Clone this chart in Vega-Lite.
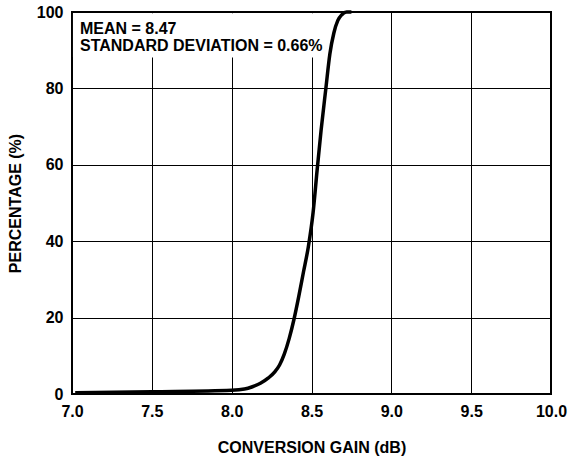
{
  "$schema": "https://vega.github.io/schema/vega-lite/v6.json",
  "width": 479,
  "height": 382,
  "autosize": "none",
  "padding": {"left": 72, "top": 12, "right": 18, "bottom": 62},
  "background": "white",
  "config": {
    "view": {"stroke": "#000", "strokeWidth": 2},
    "font": "Liberation Sans",
    "axis": {
      "labelFont": "Liberation Sans",
      "labelFontSize": 16,
      "labelFontWeight": "bold",
      "labelColor": "#000",
      "titleFont": "Liberation Sans",
      "titleFontSize": 16,
      "titleFontWeight": "bold",
      "titleColor": "#000",
      "grid": true,
      "gridColor": "#000",
      "gridWidth": 1,
      "gridOpacity": 1,
      "domain": false,
      "ticks": false,
      "tickSize": 0
    }
  },
  "datasets": {
    "curve": [
      {"gain": 7.02, "pct": 0.3},
      {"gain": 7.5, "pct": 0.6},
      {"gain": 8.0, "pct": 1.0},
      {"gain": 8.08, "pct": 1.3},
      {"gain": 8.13, "pct": 1.9},
      {"gain": 8.18, "pct": 2.8},
      {"gain": 8.23, "pct": 4.2},
      {"gain": 8.27, "pct": 5.8},
      {"gain": 8.30, "pct": 7.6},
      {"gain": 8.33, "pct": 10.5},
      {"gain": 8.36, "pct": 14.5},
      {"gain": 8.39, "pct": 19.5},
      {"gain": 8.42, "pct": 25.5},
      {"gain": 8.45, "pct": 32},
      {"gain": 8.48, "pct": 38.5},
      {"gain": 8.51, "pct": 47.5},
      {"gain": 8.535, "pct": 58.5},
      {"gain": 8.56, "pct": 69},
      {"gain": 8.59, "pct": 80},
      {"gain": 8.615, "pct": 89},
      {"gain": 8.64, "pct": 94.5},
      {"gain": 8.665, "pct": 97.8},
      {"gain": 8.69, "pct": 99.3},
      {"gain": 8.72, "pct": 100},
      {"gain": 8.75, "pct": 100}
    ],
    "box": [{"x1": 7.006, "x2": 8.585, "y1": 88.1, "y2": 99.7}],
    "notes": [
      {"gain": 7.05, "pct": 94.2, "label": "MEAN = 8.47"},
      {"gain": 7.05, "pct": 89.9, "label": "STANDARD DEVIATION = 0.66%"}
    ]
  },
  "layer": [
    {
      "data": {"name": "box"},
      "mark": {"type": "rect", "fill": "white", "stroke": null},
      "encoding": {
        "x": {"field": "x1", "type": "quantitative",
          "scale": {"domain": [7, 10], "nice": false, "zero": false},
          "axis": {"values": [7, 7.5, 8, 8.5, 9, 9.5, 10], "format": ".1f", "labelFlush": false,
                   "labelPadding": 9, "title": "CONVERSION GAIN (dB)", "titlePadding": 20}},
        "x2": {"field": "x2"},
        "y": {"field": "y1", "type": "quantitative",
          "scale": {"domain": [0, 100], "nice": false},
          "axis": {"values": [0, 20, 40, 60, 80, 100], "labelFlush": false,
                   "labelPadding": 9, "title": "PERCENTAGE (%)", "titlePadding": 13}},
        "y2": {"field": "y2"}
      }
    },
    {
      "data": {"name": "curve"},
      "mark": {"type": "line", "color": "#000", "strokeWidth": 3.5, "interpolate": "monotone"},
      "encoding": {
        "x": {"field": "gain", "type": "quantitative"},
        "y": {"field": "pct", "type": "quantitative"}
      }
    },
    {
      "data": {"name": "notes"},
      "mark": {"type": "text", "align": "left", "baseline": "alphabetic", "font": "Liberation Sans",
               "fontSize": 16, "fontWeight": "bold", "color": "#000"},
      "encoding": {
        "x": {"field": "gain", "type": "quantitative"},
        "y": {"field": "pct", "type": "quantitative"},
        "text": {"field": "label"}
      }
    }
  ]
}
